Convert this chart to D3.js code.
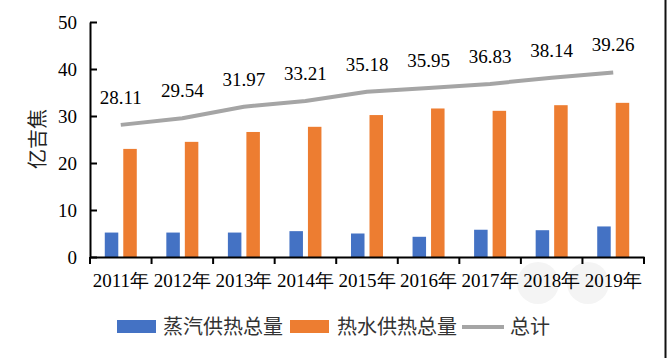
<!DOCTYPE html>
<html><head><meta charset="utf-8">
<script src="https://cdn.jsdelivr.net/npm/d3@7"></script>
<style>
html,body{margin:0;padding:0;background:#fff;}
svg{display:block;}
.num{font-family:"Liberation Serif","Times New Roman",Tinos,"DejaVu Serif",serif;}
.cjk{font-family:"Noto Sans CJK SC",sans-serif;}
</style></head>
<body>
<script>
const years = ["2011年","2012年","2013年","2014年","2015年","2016年","2017年","2018年","2019年"];
const steam = [5.2, 5.2, 5.2, 5.5, 5.0, 4.3, 5.8, 5.7, 6.5];
const water = [23.0, 24.5, 26.6, 27.7, 30.2, 31.6, 31.1, 32.3, 32.8];
const total = [28.11, 29.54, 31.97, 33.21, 35.18, 35.95, 36.83, 38.14, 39.26];
const yTicks = [0, 10, 20, 30, 40, 50];
const seriesNames = ["蒸汽供热总量", "热水供热总量", "总计"];
const colors = {steam:"#4472c4", water:"#ed7d31", total:"#a5a5a5"};

const W = 668, H = 358;
const m = {l:90, r:24, t:22, b:101};
const svg = d3.select("body").append("svg").attr("width", W).attr("height", H);

// watermark (faint)
svg.append("circle").attr("cx",538).attr("cy",283).attr("r",21).attr("fill","#f4f4f4");
svg.append("circle").attr("cx",588).attr("cy",283).attr("r",21).attr("fill","#f4f4f4");

const x = d3.scaleBand().domain(years).range([m.l, W - m.r]).padding(0);
const y = d3.scaleLinear().domain([0, 50]).range([H - m.b, m.t]);
const sub = d3.scaleBand().domain(["steam","water"]).range([-16, 16]).paddingInner(0.27);
const cx = d => x(d) + x.bandwidth()/2;

// bars
const g = svg.append("g");
years.forEach((yr, i) => {
  g.append("rect").attr("x", cx(yr) + sub("steam")).attr("width", sub.bandwidth())
    .attr("y", y(steam[i])).attr("height", y(0) - y(steam[i])).attr("fill", colors.steam);
  g.append("rect").attr("x", cx(yr) + sub("water")).attr("width", sub.bandwidth())
    .attr("y", y(water[i])).attr("height", y(0) - y(water[i])).attr("fill", colors.water);
});

// total line
const line = d3.line().x((d,i) => cx(years[i])).y(d => y(d));
svg.append("path").datum(total).attr("d", line).attr("fill","none")
  .attr("stroke", colors.total).attr("stroke-width", 4).attr("stroke-linejoin","round");

// value labels
svg.append("g").selectAll("text").data(total).join("text")
  .attr("class","num")
  .attr("x", (d,i) => cx(years[i])).attr("y", d => y(d) - 21)
  .attr("text-anchor","middle").style("font-size","19px")
  .attr("fill","#000").text(d => d.toFixed(2));

// y axis
const yAxis = svg.append("g").attr("transform", `translate(${m.l},0)`)
  .call(d3.axisLeft(y).tickValues(yTicks).tickSizeInner(-7).tickSizeOuter(0).tickPadding(13));
yAxis.attr("font-family", null).attr("font-size", null);
yAxis.select(".domain").attr("stroke","#000").attr("stroke-width",2);
yAxis.selectAll(".tick line").attr("stroke","#000").attr("stroke-width",2);
yAxis.selectAll(".tick text").attr("class","num").style("font-size","19px").attr("fill","#000");

// x axis
const xAxis = svg.append("g").attr("transform", `translate(0,${y(0)})`)
  .call(d3.axisBottom(x).tickSize(0).tickSizeOuter(0).tickPadding(16));
xAxis.attr("font-family", null).attr("font-size", null);
xAxis.select(".domain").attr("stroke","#000").attr("stroke-width",2);
xAxis.selectAll(".tick text").attr("class","num").style("font-size","19px").attr("fill","#000")
  .attr("dy","0.75em");
const bounds = years.map(d => x(d)).concat([x(years[years.length-1]) + x.bandwidth()]);
xAxis.selectAll(".btick").data(bounds).join("line").attr("class","btick")
  .attr("x1", d => d).attr("x2", d => d).attr("y1", 0).attr("y2", 7)
  .attr("stroke","#000").attr("stroke-width",2);

// y title
svg.append("text").attr("class","cjk").attr("transform", "translate(45,139) rotate(-90)")
  .attr("text-anchor","middle").style("font-size","20px")
  .attr("fill","#222").text("亿吉焦");

// legend
const lg = svg.append("g");
lg.append("rect").attr("x",117).attr("y",320).attr("width",39).attr("height",13).attr("fill",colors.steam);
lg.append("text").attr("class","cjk").attr("x",163).attr("y",334).style("font-size","20px").attr("fill","#333").text(seriesNames[0]);
lg.append("rect").attr("x",290).attr("y",320).attr("width",39).attr("height",13).attr("fill",colors.water);
lg.append("text").attr("class","cjk").attr("x",337).attr("y",334).style("font-size","20px").attr("fill","#333").text(seriesNames[1]);
lg.append("line").attr("x1",462).attr("x2",504).attr("y1",327).attr("y2",327).attr("stroke",colors.total).attr("stroke-width",4);
lg.append("text").attr("class","cjk").attr("x",510).attr("y",334).style("font-size","20px").attr("fill","#333").text(seriesNames[2]);

// right border line
svg.append("line").attr("x1",665.5).attr("x2",665.5).attr("y1",0).attr("y2",H).attr("stroke","#111").attr("stroke-width",2);
</script>
</body></html>
